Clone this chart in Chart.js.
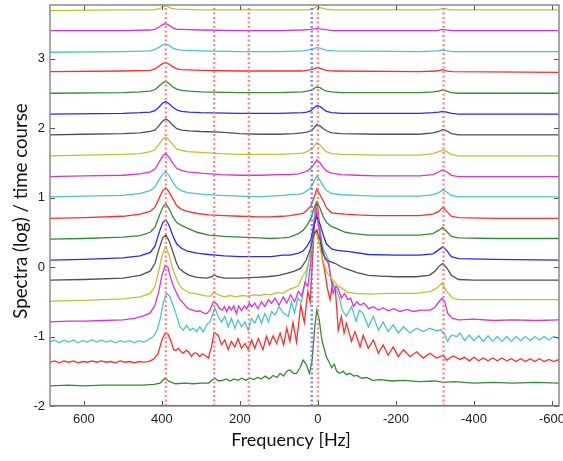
<!DOCTYPE html>
<html><head><meta charset="utf-8">
<script src="https://cdn.jsdelivr.net/npm/chart.js@4/dist/chart.umd.min.js"></script>
<style>html,body{margin:0;padding:0;background:#fff}canvas{display:block}</style>
</head><body>
<canvas id="c" width="563" height="461"></canvas>
<script>
const xTicks = [600, 400, 200, 0, -200, -400, -600];
const yTicks = [-2, -1, 0, 1, 2, 3];
const redMarkers = [390, 266, 177, 0, -322];
const blueMarkers = [16];
const xTitle = 'Frequency [Hz]';
const yTitle = 'Spectra (log) / time course';
const traceColors = ['rgb(40,40,255)','rgb(50,140,50)','rgb(255,45,45)','rgb(70,200,200)','rgb(220,50,220)','rgb(195,195,40)','rgb(80,80,80)'];

const tr00 = [[687,-1.995],[-618,-1.995]];
const tr01 = [[687,-1.71],[640,-1.70],[600,-1.71],[550,-1.70],[500,-1.70],[450,-1.70],[420,-1.69],[405,-1.67],[392,-1.60],[380,-1.65],[365,-1.68],[340,-1.67],[320,-1.68],[300,-1.67],[280,-1.67],[270,-1.62],[264,-1.60],[255,-1.64],[245,-1.63],[235,-1.61],[225,-1.64],[215,-1.61],[205,-1.63],[195,-1.60],[185,-1.63],[175,-1.60],[165,-1.62],[155,-1.59],[145,-1.61],[135,-1.57],[125,-1.61],[115,-1.56],[105,-1.59],[97,-1.53],[88,-1.57],[80,-1.50],[72,-1.48],[63,-1.53],[55,-1.53],[46,-1.45],[38,-1.34],[30,-1.40],[22,-1.53],[15,-1.35],[8,-0.85],[3,-0.62],[-3,-0.75],[-10,-1.05],[-16,-1.18],[-22,-1.30],[-28,-1.36],[-35,-1.45],[-42,-1.40],[-48,-1.50],[-56,-1.53],[-65,-1.50],[-73,-1.55],[-82,-1.53],[-92,-1.57],[-100,-1.56],[-112,-1.60],[-125,-1.59],[-140,-1.63],[-160,-1.62],[-190,-1.64],[-220,-1.63],[-260,-1.65],[-300,-1.64],[-322,-1.66],[-350,-1.65],[-400,-1.67],[-450,-1.66],[-500,-1.67],[-560,-1.66],[-618,-1.67]];
const tr02 = [[687,-1.37],[675,-1.35],[663,-1.38],[651,-1.35],[639,-1.37],[627,-1.35],[615,-1.38],[603,-1.36],[591,-1.37],[579,-1.35],[567,-1.37],[555,-1.35],[543,-1.37],[531,-1.36],[519,-1.38],[507,-1.35],[495,-1.37],[483,-1.36],[471,-1.38],[459,-1.36],[447,-1.37],[435,-1.36],[422,-1.33],[410,-1.25],[400,-1.05],[392,-0.95],[384,-0.97],[376,-1.08],[370,-1.19],[364,-1.20],[358,-1.17],[351,-1.22],[345,-1.24],[338,-1.20],[332,-1.22],[324,-1.29],[318,-1.24],[311,-1.24],[303,-1.29],[297,-1.25],[290,-1.27],[281,-1.31],[273,-1.15],[266,-0.94],[256,-0.98],[247,-1.12],[239,-1.05],[230,-1.19],[222,-1.07],[213,-1.15],[205,-1.03],[196,-1.17],[187,-1.10],[179,-1.19],[170,-1.05],[162,-1.17],[153,-1.03],[141,-1.19],[132,-1.00],[124,-1.12],[115,-0.99],[106,-1.10],[97,-0.95],[88,-1.12],[80,-0.88],[72,-1.07],[64,-0.80],[55,-1.08],[44,-0.55],[35,-0.80],[26,-0.35],[20,-0.50],[13,0.20],[7,0.85],[2,0.92],[-4,0.60],[-10,0.15],[-17,-0.04],[-24,-0.30],[-31,-0.47],[-38,-0.23],[-45,-0.35],[-52,-0.91],[-60,-0.71],[-67,-0.95],[-73,-0.81],[-86,-1.07],[-95,-0.93],[-108,-1.15],[-116,-0.98],[-129,-1.17],[-142,-1.05],[-155,-1.24],[-167,-1.12],[-180,-1.27],[-193,-1.15],[-206,-1.29],[-219,-1.19],[-236,-1.29],[-253,-1.22],[-270,-1.31],[-287,-1.24],[-304,-1.31],[-321,-1.27],[-330,-1.34],[-347,-1.28],[-364,-1.33],[-376,-1.30],[-388,-1.35],[-400,-1.30],[-412,-1.35],[-424,-1.31],[-436,-1.35],[-448,-1.31],[-460,-1.35],[-472,-1.31],[-484,-1.35],[-496,-1.32],[-508,-1.36],[-520,-1.32],[-532,-1.36],[-544,-1.32],[-556,-1.36],[-568,-1.32],[-580,-1.36],[-592,-1.33],[-604,-1.36],[-618,-1.33]];
const tr03 = [[687,-1.08],[675,-1.05],[663,-1.09],[651,-1.05],[639,-1.08],[627,-1.05],[615,-1.09],[603,-1.06],[591,-1.08],[579,-1.05],[567,-1.08],[555,-1.05],[543,-1.08],[531,-1.06],[519,-1.09],[507,-1.06],[495,-1.08],[483,-1.06],[471,-1.09],[459,-1.06],[447,-1.08],[436,-1.05],[422,-1.00],[412,-0.90],[405,-0.76],[396,-0.50],[388,-0.38],[380,-0.42],[367,-0.62],[354,-0.86],[345,-0.91],[337,-0.84],[328,-0.91],[320,-0.88],[311,-0.93],[303,-0.86],[294,-0.93],[285,-0.83],[277,-0.79],[264,-0.59],[256,-0.71],[247,-0.79],[239,-0.71],[230,-0.86],[222,-0.74],[213,-0.88],[205,-0.76],[196,-0.86],[187,-0.79],[179,-0.91],[170,-0.74],[162,-0.81],[153,-0.69],[145,-0.81],[136,-0.67],[127,-0.79],[119,-0.64],[110,-0.69],[100,-0.57],[89,-0.66],[76,-0.71],[68,-0.50],[60,-0.66],[52,-0.45],[42,-0.50],[32,-0.19],[20,0.20],[10,0.70],[4,0.85],[-3,0.60],[-10,0.35],[-15,0.24],[-21,0.18],[-27,0.10],[-35,-0.23],[-48,-0.33],[-56,-0.47],[-62,-0.62],[-73,-0.71],[-86,-0.57],[-98,-0.78],[-106,-0.62],[-116,-0.67],[-129,-0.86],[-142,-0.71],[-155,-0.91],[-167,-0.79],[-180,-0.93],[-193,-0.83],[-206,-0.95],[-219,-0.86],[-236,-0.95],[-253,-0.88],[-270,-0.93],[-287,-0.88],[-304,-0.92],[-315,-0.90],[-326,-0.98],[-332,-1.07],[-343,-0.98],[-356,-1.00],[-364,-0.95],[-376,-1.06],[-388,-0.98],[-400,-1.06],[-412,-0.99],[-424,-1.07],[-436,-0.99],[-448,-1.07],[-460,-1.00],[-472,-1.07],[-484,-1.00],[-496,-1.07],[-508,-1.00],[-520,-1.06],[-532,-1.00],[-544,-1.06],[-556,-1.00],[-568,-1.05],[-580,-1.00],[-592,-1.05],[-604,-1.00],[-618,-1.03]];
const tr04 = [[687,-0.79],[640,-0.78],[600,-0.78],[550,-0.77],[500,-0.76],[470,-0.74],[445,-0.70],[430,-0.66],[418,-0.55],[408,-0.35],[400,-0.12],[392,0.02],[385,0.00],[378,-0.15],[370,-0.28],[362,-0.38],[354,-0.47],[345,-0.52],[337,-0.58],[328,-0.61],[320,-0.62],[311,-0.64],[303,-0.63],[294,-0.66],[285,-0.67],[277,-0.62],[268,-0.50],[260,-0.53],[252,-0.60],[245,-0.62],[240,-0.57],[234,-0.64],[228,-0.57],[222,-0.62],[216,-0.56],[209,-0.67],[203,-0.56],[196,-0.63],[189,-0.56],[183,-0.60],[176,-0.52],[170,-0.57],[162,-0.52],[154,-0.60],[145,-0.50],[136,-0.57],[127,-0.47],[119,-0.52],[110,-0.45],[100,-0.55],[89,-0.43],[80,-0.52],[70,-0.40],[60,-0.50],[50,-0.35],[42,-0.42],[33,-0.22],[26,-0.28],[18,0.10],[10,0.60],[4,0.80],[-3,0.55],[-10,0.30],[-18,0.12],[-27,0.05],[-33,-0.15],[-39,-0.38],[-46,-0.28],[-52,-0.31],[-60,-0.45],[-68,-0.38],[-77,-0.47],[-84,-0.45],[-91,-0.57],[-100,-0.50],[-108,-0.55],[-118,-0.52],[-130,-0.60],[-142,-0.57],[-155,-0.62],[-167,-0.59],[-180,-0.63],[-195,-0.60],[-210,-0.64],[-228,-0.61],[-245,-0.64],[-265,-0.62],[-288,-0.62],[-300,-0.58],[-310,-0.50],[-318,-0.45],[-325,-0.50],[-333,-0.67],[-345,-0.74],[-360,-0.76],[-400,-0.75],[-450,-0.77],[-500,-0.76],[-560,-0.77],[-618,-0.76]];
const tr05 = [[687,-0.49],[600,-0.48],[500,-0.46],[456,-0.43],[430,-0.38],[418,-0.28],[408,-0.05],[398,0.20],[390,0.29],[382,0.18],[374,0.00],[366,-0.12],[358,-0.23],[350,-0.30],[342,-0.33],[330,-0.37],[318,-0.38],[300,-0.40],[285,-0.42],[275,-0.42],[266,-0.36],[255,-0.40],[240,-0.43],[225,-0.41],[210,-0.43],[195,-0.41],[180,-0.42],[165,-0.40],[150,-0.41],[135,-0.39],[120,-0.40],[105,-0.37],[90,-0.38],[76,-0.33],[63,-0.30],[50,-0.27],[40,-0.14],[30,-0.05],[20,0.15],[10,0.45],[4,0.50],[-3,0.35],[-10,0.15],[-18,0.00],[-25,-0.10],[-33,-0.15],[-40,-0.20],[-50,-0.27],[-60,-0.30],[-75,-0.36],[-95,-0.38],[-130,-0.39],[-180,-0.38],[-250,-0.38],[-290,-0.35],[-305,-0.30],[-318,-0.23],[-330,-0.35],[-345,-0.45],[-360,-0.47],[-450,-0.47],[-618,-0.47]];
const tr06 = [[687,-0.19],[600,-0.18],[500,-0.16],[456,-0.12],[430,-0.06],[418,0.05],[408,0.25],[398,0.42],[390,0.46],[382,0.38],[372,0.22],[364,0.08],[356,-0.02],[345,-0.07],[330,-0.12],[310,-0.15],[285,-0.16],[272,-0.14],[266,-0.11],[258,-0.14],[240,-0.16],[200,-0.16],[160,-0.15],[130,-0.14],[100,-0.12],[80,-0.09],[60,-0.06],[45,-0.02],[38,0.03],[30,0.10],[20,0.25],[10,0.48],[3,0.53],[-5,0.40],[-12,0.20],[-20,0.12],[-30,0.08],[-45,0.05],[-60,0.00],[-75,-0.03],[-100,-0.08],[-130,-0.12],[-160,-0.13],[-200,-0.14],[-250,-0.14],[-285,-0.12],[-300,-0.06],[-312,0.02],[-320,0.05],[-330,-0.01],[-342,-0.12],[-360,-0.18],[-400,-0.19],[-500,-0.19],[-618,-0.19]];
const tr07 = [[687,0.10],[600,0.11],[500,0.13],[456,0.16],[430,0.21],[418,0.30],[408,0.48],[398,0.64],[390,0.68],[382,0.60],[372,0.45],[362,0.33],[350,0.27],[335,0.23],[310,0.20],[280,0.18],[240,0.16],[200,0.15],[150,0.15],[120,0.15],[90,0.17],[72,0.17],[50,0.20],[38,0.23],[28,0.30],[18,0.40],[10,0.60],[3,0.73],[-5,0.62],[-14,0.45],[-22,0.33],[-35,0.26],[-50,0.24],[-80,0.22],[-130,0.18],[-200,0.17],[-260,0.17],[-295,0.19],[-310,0.25],[-320,0.29],[-330,0.24],[-342,0.15],[-360,0.12],[-450,0.11],[-618,0.10]];
const tr08 = [[687,0.40],[600,0.41],[500,0.43],[456,0.45],[430,0.50],[418,0.57],[408,0.72],[398,0.86],[390,0.91],[382,0.84],[372,0.72],[362,0.64],[350,0.60],[335,0.56],[310,0.50],[280,0.46],[240,0.44],[200,0.43],[150,0.42],[123,0.41],[90,0.42],[72,0.43],[50,0.48],[38,0.53],[28,0.60],[18,0.70],[10,0.85],[3,0.94],[-5,0.85],[-14,0.72],[-22,0.64],[-35,0.58],[-50,0.55],[-70,0.50],[-91,0.48],[-130,0.46],[-200,0.46],[-260,0.46],[-295,0.48],[-310,0.53],[-320,0.57],[-330,0.51],[-342,0.44],[-360,0.42],[-450,0.41],[-618,0.41]];
const tr09 = [[687,0.70],[600,0.71],[500,0.73],[456,0.76],[430,0.80],[418,0.86],[408,0.98],[398,1.10],[390,1.14],[382,1.08],[372,0.98],[362,0.88],[350,0.83],[335,0.80],[310,0.77],[280,0.75],[240,0.74],[200,0.73],[150,0.72],[123,0.72],[90,0.73],[72,0.74],[50,0.76],[38,0.77],[28,0.82],[18,0.88],[10,1.00],[3,1.12],[-5,1.04],[-14,0.95],[-22,0.85],[-35,0.78],[-50,0.77],[-70,0.76],[-100,0.75],[-150,0.74],[-200,0.74],[-260,0.74],[-295,0.76],[-310,0.80],[-320,0.86],[-330,0.80],[-342,0.73],[-360,0.71],[-450,0.70],[-618,0.70]];
const tr10 = [[687,1.01],[600,1.02],[500,1.03],[456,1.06],[430,1.10],[418,1.15],[408,1.25],[398,1.34],[390,1.37],[382,1.32],[372,1.22],[362,1.14],[350,1.10],[335,1.07],[300,1.05],[250,1.03],[200,1.02],[150,1.01],[123,1.02],[90,1.03],[72,1.04],[50,1.05],[38,1.06],[28,1.10],[18,1.14],[10,1.23],[3,1.31],[-5,1.25],[-14,1.16],[-22,1.10],[-35,1.06],[-60,1.04],[-100,1.03],[-150,1.02],[-200,1.02],[-260,1.02],[-295,1.04],[-310,1.07],[-320,1.11],[-330,1.08],[-342,1.03],[-360,1.01],[-450,1.01],[-618,1.01]];
const tr11 = [[687,1.30],[600,1.31],[500,1.32],[456,1.34],[430,1.37],[418,1.41],[408,1.50],[398,1.60],[390,1.63],[382,1.58],[372,1.49],[362,1.42],[350,1.39],[335,1.37],[300,1.35],[250,1.33],[200,1.32],[150,1.32],[100,1.33],[72,1.33],[50,1.34],[38,1.36],[28,1.38],[18,1.42],[10,1.48],[3,1.54],[-5,1.50],[-14,1.43],[-22,1.38],[-35,1.35],[-60,1.33],[-100,1.32],[-150,1.31],[-200,1.31],[-260,1.31],[-295,1.33],[-310,1.37],[-320,1.40],[-330,1.37],[-342,1.32],[-360,1.30],[-450,1.30],[-618,1.30]];
const tr12 = [[687,1.60],[600,1.61],[500,1.62],[456,1.63],[430,1.66],[418,1.69],[408,1.76],[398,1.84],[390,1.87],[382,1.83],[372,1.76],[362,1.70],[350,1.68],[335,1.66],[300,1.65],[250,1.63],[200,1.62],[150,1.62],[100,1.62],[60,1.63],[40,1.64],[28,1.66],[18,1.69],[10,1.74],[3,1.79],[-5,1.76],[-14,1.70],[-22,1.66],[-35,1.63],[-60,1.62],[-150,1.61],[-260,1.61],[-295,1.63],[-310,1.66],[-320,1.68],[-330,1.66],[-342,1.62],[-360,1.60],[-618,1.60]];
const tr13 = [[687,1.90],[600,1.91],[500,1.92],[456,1.93],[430,1.95],[418,1.97],[408,2.03],[398,2.10],[390,2.13],[382,2.10],[372,2.04],[362,1.99],[350,1.97],[330,1.96],[300,1.95],[250,1.94],[200,1.92],[150,1.91],[100,1.91],[60,1.92],[40,1.93],[28,1.94],[18,1.96],[10,2.00],[3,2.05],[-5,2.03],[-14,1.99],[-22,1.96],[-35,1.93],[-60,1.92],[-150,1.91],[-260,1.91],[-295,1.93],[-310,1.95],[-320,1.98],[-330,1.96],[-342,1.92],[-360,1.90],[-618,1.90]];
const tr14 = [[687,2.20],[500,2.21],[456,2.22],[430,2.23],[418,2.25],[408,2.30],[398,2.36],[390,2.38],[382,2.35],[372,2.30],[362,2.26],[350,2.24],[330,2.23],[300,2.22],[200,2.21],[100,2.21],[40,2.22],[28,2.23],[18,2.25],[10,2.29],[3,2.32],[-5,2.31],[-14,2.27],[-22,2.24],[-35,2.22],[-60,2.21],[-260,2.21],[-295,2.22],[-310,2.23],[-320,2.24],[-330,2.23],[-342,2.21],[-360,2.20],[-618,2.20]];
const tr15 = [[687,2.50],[500,2.51],[456,2.52],[430,2.53],[418,2.55],[408,2.60],[398,2.65],[390,2.67],[382,2.64],[372,2.59],[362,2.56],[350,2.54],[330,2.53],[300,2.52],[200,2.51],[100,2.51],[40,2.52],[28,2.53],[18,2.54],[10,2.57],[3,2.59],[-5,2.58],[-14,2.55],[-22,2.53],[-35,2.52],[-60,2.51],[-260,2.51],[-295,2.52],[-310,2.53],[-320,2.55],[-330,2.53],[-342,2.51],[-360,2.50],[-618,2.50]];
const tr16 = [[687,2.81],[500,2.82],[430,2.83],[418,2.85],[408,2.89],[398,2.93],[390,2.94],[382,2.92],[372,2.88],[362,2.85],[350,2.84],[300,2.83],[200,2.82],[100,2.82],[40,2.82],[28,2.83],[18,2.84],[10,2.85],[3,2.87],[-5,2.86],[-14,2.84],[-22,2.83],[-40,2.82],[-260,2.81],[-305,2.82],[-320,2.84],[-332,2.82],[-345,2.81],[-618,2.80]];
const tr17 = [[687,3.09],[500,3.10],[430,3.11],[418,3.13],[408,3.16],[398,3.20],[390,3.21],[382,3.19],[372,3.15],[362,3.13],[350,3.12],[300,3.11],[200,3.10],[100,3.10],[40,3.11],[28,3.12],[18,3.13],[10,3.14],[3,3.16],[-5,3.15],[-14,3.13],[-22,3.12],[-40,3.11],[-260,3.10],[-305,3.11],[-320,3.12],[-332,3.11],[-345,3.10],[-618,3.10]];
const tr18 = [[687,3.40],[500,3.40],[430,3.41],[418,3.42],[408,3.45],[398,3.49],[390,3.50],[382,3.48],[372,3.44],[362,3.42],[350,3.42],[300,3.41],[200,3.40],[100,3.40],[40,3.41],[18,3.42],[3,3.43],[-14,3.42],[-40,3.40],[-305,3.40],[-320,3.42],[-332,3.41],[-345,3.40],[-618,3.40]];
const tr19 = [[687,3.69],[500,3.70],[420,3.70],[405,3.72],[395,3.75],[388,3.76],[380,3.73],[365,3.71],[300,3.70],[100,3.70],[20,3.70],[10,3.72],[3,3.75],[-8,3.73],[-20,3.71],[-40,3.70],[-305,3.70],[-322,3.72],[-338,3.70],[-618,3.70]];

const traces = [tr00,tr01,tr02,tr03,tr04,tr05,tr06,tr07,tr08,tr09,tr10,tr11,tr12,tr13,tr14,tr15,tr16,tr17,tr18,tr19];
const X_MIN = -618, X_MAX = 687, Y_MIN = -2, Y_MAX = 3.77;

const datasets = [];
redMarkers.forEach(f => datasets.push({data:[{x:f,y:Y_MIN},{x:f,y:Y_MAX}], borderColor:'rgba(255,110,110,0.8)', borderWidth:2.5, borderDash:[2,2.5], order:-1}));
blueMarkers.forEach(f => datasets.push({data:[{x:f,y:Y_MIN},{x:f,y:Y_MAX}], borderColor:'rgba(110,110,255,0.85)', borderWidth:2.5, borderDash:[2,2.5], order:-1}));
traces.forEach((t,i) => datasets.push({data:t.map(p=>({x:p[0],y:p[1]})), borderColor:traceColors[i%7], borderWidth:1.3, order: 100-i}));

const frame = {
  id:'frame',
  afterDatasetsDraw(chart){
    const {ctx, chartArea:a, scales:{x,y}} = chart;
    ctx.save();
    ctx.strokeStyle = '#555'; ctx.lineWidth = 1;
    xTicks.forEach(v=>{const px=Math.round(x.getPixelForValue(v))+0.5;
      ctx.beginPath();ctx.moveTo(px,a.bottom);ctx.lineTo(px,a.bottom-5);ctx.moveTo(px,a.top);ctx.lineTo(px,a.top+5);ctx.stroke();});
    yTicks.forEach(v=>{const py=Math.round(y.getPixelForValue(v))+0.5;
      ctx.beginPath();ctx.moveTo(a.left,py);ctx.lineTo(a.left+5,py);ctx.moveTo(a.right,py);ctx.lineTo(a.right-5,py);ctx.stroke();});
    ctx.strokeStyle = '#8a8a8a'; ctx.lineWidth = 1.5;
    ctx.strokeRect(a.left, a.top, a.right-a.left, a.bottom-a.top);
    ctx.fillStyle = '#111';
    ctx.textAlign = 'center'; ctx.textBaseline = 'middle';
    ctx.font = '18px Lato';
    ctx.fillText(xTitle, 291, 440);
    ctx.translate(21, 211); ctx.rotate(-Math.PI/2);
    ctx.font = '18.7px Lato';
    ctx.fillText(yTitle, 0, 0);
    ctx.restore();
  }
};

new Chart(document.getElementById('c'), {
  type:'scatter',
  data:{datasets},
  options:{
    responsive:false, animation:false, devicePixelRatio:1,
    showLine:true,
    elements:{point:{radius:0}, line:{tension:0}},
    layout:{padding:{top:5,right:4,left:0,bottom:0}},
    plugins:{legend:{display:false}, tooltip:{enabled:false}},
    scales:{
      x:{type:'linear', reverse:true, min:X_MIN, max:X_MAX,
        afterBuildTicks:s=>{s.ticks = xTicks.map(v=>({value:v}));},
        afterFit:s=>{s.height = 55; s.paddingLeft = 0; s.paddingRight = 0;},
        grid:{display:false, drawTicks:false}, border:{display:false},
        ticks:{padding:6, color:'#222', font:{family:'Liberation Sans', size:13}, callback:v=>String(v), autoSkip:false, maxRotation:0},
        title:{display:false}
      },
      y:{type:'linear', min:Y_MIN, max:Y_MAX,
        afterBuildTicks:s=>{s.ticks = yTicks.map(v=>({value:v}));},
        afterFit:s=>{s.width = 50; s.paddingTop = 0; s.paddingBottom = 0;},
        grid:{display:false, drawTicks:false}, border:{display:false},
        ticks:{padding:5, color:'#222', font:{family:'Liberation Sans', size:13}, callback:v=>String(v)},
        title:{display:false}
      }
    }
  },
  plugins:[frame]
});
</script>
</body></html>
